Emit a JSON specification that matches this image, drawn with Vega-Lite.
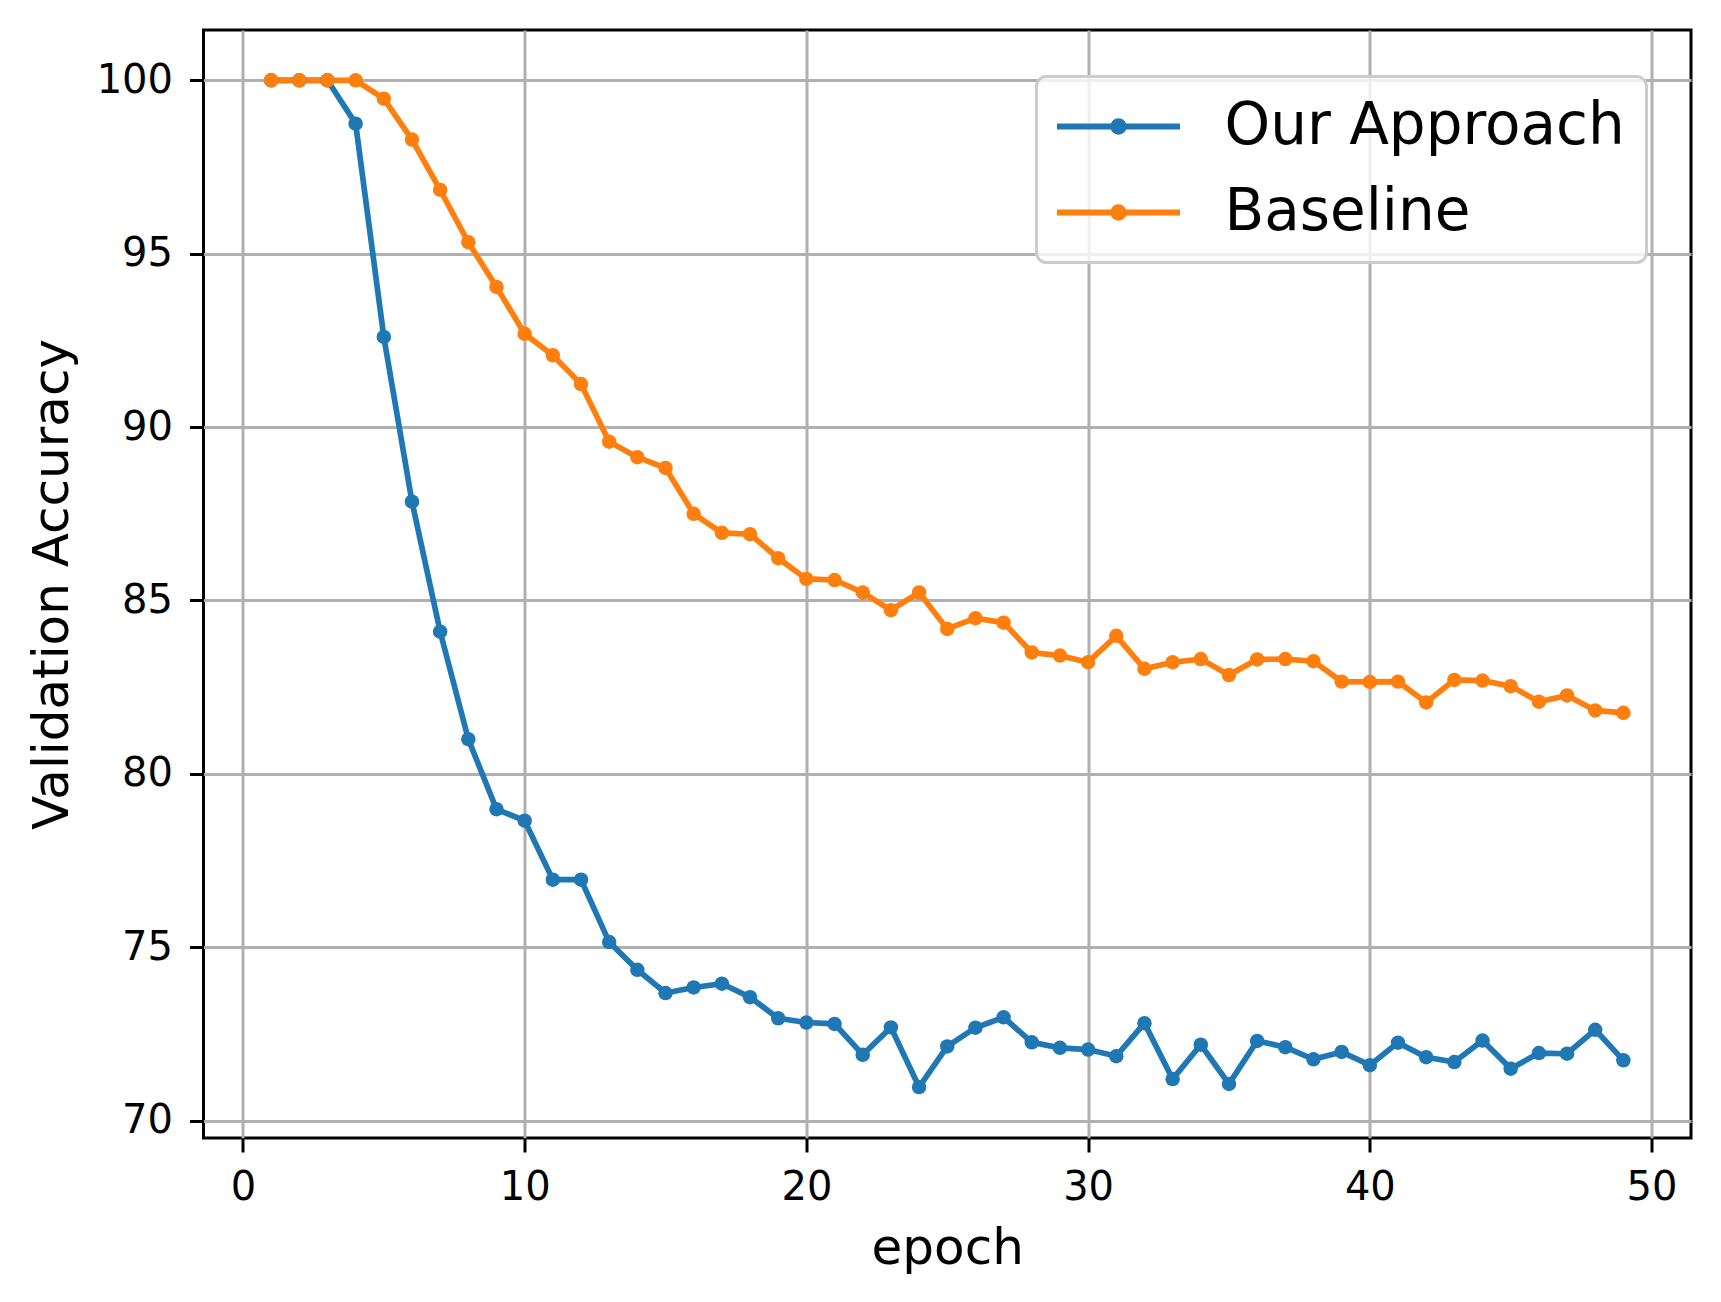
{
  "$schema": "https://vega.github.io/schema/vega-lite/v6.json",
  "autosize": {"type": "none"},
  "padding": {"left": 203.5, "top": 30, "right": 30, "bottom": 164},
  "width": 1487.5,
  "height": 1108,
  "background": "white",
  "data": {
    "values": [
      {"epoch": 1, "acc": 100, "series": "Our Approach"},
      {"epoch": 2, "acc": 100, "series": "Our Approach"},
      {"epoch": 3, "acc": 100, "series": "Our Approach"},
      {"epoch": 4, "acc": 98.75, "series": "Our Approach"},
      {"epoch": 5, "acc": 92.6, "series": "Our Approach"},
      {"epoch": 6, "acc": 87.85, "series": "Our Approach"},
      {"epoch": 7, "acc": 84.1, "series": "Our Approach"},
      {"epoch": 8, "acc": 81.0, "series": "Our Approach"},
      {"epoch": 9, "acc": 78.98, "series": "Our Approach"},
      {"epoch": 10, "acc": 78.65, "series": "Our Approach"},
      {"epoch": 11, "acc": 76.95, "series": "Our Approach"},
      {"epoch": 12, "acc": 76.95, "series": "Our Approach"},
      {"epoch": 13, "acc": 75.15, "series": "Our Approach"},
      {"epoch": 14, "acc": 74.35, "series": "Our Approach"},
      {"epoch": 15, "acc": 73.68, "series": "Our Approach"},
      {"epoch": 16, "acc": 73.84, "series": "Our Approach"},
      {"epoch": 17, "acc": 73.95, "series": "Our Approach"},
      {"epoch": 18, "acc": 73.56, "series": "Our Approach"},
      {"epoch": 19, "acc": 72.95, "series": "Our Approach"},
      {"epoch": 20, "acc": 72.83, "series": "Our Approach"},
      {"epoch": 21, "acc": 72.79, "series": "Our Approach"},
      {"epoch": 22, "acc": 71.9, "series": "Our Approach"},
      {"epoch": 23, "acc": 72.69, "series": "Our Approach"},
      {"epoch": 24, "acc": 70.97, "series": "Our Approach"},
      {"epoch": 25, "acc": 72.14, "series": "Our Approach"},
      {"epoch": 26, "acc": 72.68, "series": "Our Approach"},
      {"epoch": 27, "acc": 72.98, "series": "Our Approach"},
      {"epoch": 28, "acc": 72.26, "series": "Our Approach"},
      {"epoch": 29, "acc": 72.1, "series": "Our Approach"},
      {"epoch": 30, "acc": 72.05, "series": "Our Approach"},
      {"epoch": 31, "acc": 71.86, "series": "Our Approach"},
      {"epoch": 32, "acc": 72.81, "series": "Our Approach"},
      {"epoch": 33, "acc": 71.2, "series": "Our Approach"},
      {"epoch": 34, "acc": 72.19, "series": "Our Approach"},
      {"epoch": 35, "acc": 71.06, "series": "Our Approach"},
      {"epoch": 36, "acc": 72.3, "series": "Our Approach"},
      {"epoch": 37, "acc": 72.12, "series": "Our Approach"},
      {"epoch": 38, "acc": 71.77, "series": "Our Approach"},
      {"epoch": 39, "acc": 71.98, "series": "Our Approach"},
      {"epoch": 40, "acc": 71.6, "series": "Our Approach"},
      {"epoch": 41, "acc": 72.25, "series": "Our Approach"},
      {"epoch": 42, "acc": 71.83, "series": "Our Approach"},
      {"epoch": 43, "acc": 71.69, "series": "Our Approach"},
      {"epoch": 44, "acc": 72.31, "series": "Our Approach"},
      {"epoch": 45, "acc": 71.5, "series": "Our Approach"},
      {"epoch": 46, "acc": 71.95, "series": "Our Approach"},
      {"epoch": 47, "acc": 71.93, "series": "Our Approach"},
      {"epoch": 48, "acc": 72.62, "series": "Our Approach"},
      {"epoch": 49, "acc": 71.74, "series": "Our Approach"},
      {"epoch": 1, "acc": 100, "series": "Baseline"},
      {"epoch": 2, "acc": 100, "series": "Baseline"},
      {"epoch": 3, "acc": 100, "series": "Baseline"},
      {"epoch": 4, "acc": 100, "series": "Baseline"},
      {"epoch": 5, "acc": 99.47, "series": "Baseline"},
      {"epoch": 6, "acc": 98.29, "series": "Baseline"},
      {"epoch": 7, "acc": 96.84, "series": "Baseline"},
      {"epoch": 8, "acc": 95.33, "series": "Baseline"},
      {"epoch": 9, "acc": 94.04, "series": "Baseline"},
      {"epoch": 10, "acc": 92.69, "series": "Baseline"},
      {"epoch": 11, "acc": 92.07, "series": "Baseline"},
      {"epoch": 12, "acc": 91.24, "series": "Baseline"},
      {"epoch": 13, "acc": 89.58, "series": "Baseline"},
      {"epoch": 14, "acc": 89.13, "series": "Baseline"},
      {"epoch": 15, "acc": 88.82, "series": "Baseline"},
      {"epoch": 16, "acc": 87.5, "series": "Baseline"},
      {"epoch": 17, "acc": 86.95, "series": "Baseline"},
      {"epoch": 18, "acc": 86.91, "series": "Baseline"},
      {"epoch": 19, "acc": 86.22, "series": "Baseline"},
      {"epoch": 20, "acc": 85.62, "series": "Baseline"},
      {"epoch": 21, "acc": 85.59, "series": "Baseline"},
      {"epoch": 22, "acc": 85.23, "series": "Baseline"},
      {"epoch": 23, "acc": 84.72, "series": "Baseline"},
      {"epoch": 24, "acc": 85.23, "series": "Baseline"},
      {"epoch": 25, "acc": 84.18, "series": "Baseline"},
      {"epoch": 26, "acc": 84.49, "series": "Baseline"},
      {"epoch": 27, "acc": 84.36, "series": "Baseline"},
      {"epoch": 28, "acc": 83.5, "series": "Baseline"},
      {"epoch": 29, "acc": 83.41, "series": "Baseline"},
      {"epoch": 30, "acc": 83.22, "series": "Baseline"},
      {"epoch": 31, "acc": 83.98, "series": "Baseline"},
      {"epoch": 32, "acc": 83.03, "series": "Baseline"},
      {"epoch": 33, "acc": 83.22, "series": "Baseline"},
      {"epoch": 34, "acc": 83.31, "series": "Baseline"},
      {"epoch": 35, "acc": 82.85, "series": "Baseline"},
      {"epoch": 36, "acc": 83.3, "series": "Baseline"},
      {"epoch": 37, "acc": 83.31, "series": "Baseline"},
      {"epoch": 38, "acc": 83.25, "series": "Baseline"},
      {"epoch": 39, "acc": 82.66, "series": "Baseline"},
      {"epoch": 40, "acc": 82.65, "series": "Baseline"},
      {"epoch": 41, "acc": 82.66, "series": "Baseline"},
      {"epoch": 42, "acc": 82.06, "series": "Baseline"},
      {"epoch": 43, "acc": 82.71, "series": "Baseline"},
      {"epoch": 44, "acc": 82.69, "series": "Baseline"},
      {"epoch": 45, "acc": 82.53, "series": "Baseline"},
      {"epoch": 46, "acc": 82.08, "series": "Baseline"},
      {"epoch": 47, "acc": 82.26, "series": "Baseline"},
      {"epoch": 48, "acc": 81.83, "series": "Baseline"},
      {"epoch": 49, "acc": 81.76, "series": "Baseline"}
    ]
  },
  "mark": {
    "type": "line",
    "strokeWidth": 5.7,
    "point": {"filled": true, "size": 210, "strokeWidth": 0}
  },
  "encoding": {
    "x": {
      "field": "epoch",
      "type": "quantitative",
      "scale": {"domain": [-1.4, 51.4], "nice": false, "zero": false},
      "axis": {
        "title": "epoch",
        "values": [0, 10, 20, 30, 40, 50],
        "labelPadding": 15,
        "titleBaseline": "alphabetic",
        "titleX": 743.75,
        "titleY": 125
      }
    },
    "y": {
      "field": "acc",
      "type": "quantitative",
      "scale": {"domain": [69.5, 101.45], "nice": false, "zero": false},
      "axis": {
        "title": "Validation Accuracy",
        "values": [70, 75, 80, 85, 90, 95, 100],
        "labelPadding": 17,
        "titleBaseline": "alphabetic",
        "titleX": -136.5,
        "titleY": 554
      }
    },
    "color": {
      "field": "series",
      "type": "nominal",
      "scale": {"domain": ["Our Approach", "Baseline"], "range": ["#1f77b4", "#ff7f0e"]},
      "legend": {
        "title": null,
        "orient": "none",
        "legendX": 833,
        "legendY": 46.5,
        "padding": 21,
        "rowPadding": 28,
        "symbolType": "M-3.075,0L3.075,0M0.2625,0A0.2625,0.2625,0,1,1,-0.2625,0A0.2625,0.2625,0,1,1,0.2625,0Z",
        "symbolSize": 1600,
        "symbolStrokeWidth": 6,
        "symbolOffset": 32,
        "labelOffset": 77,
        "labelFontSize": 58,
        "labelFont": "DejaVu Sans",
        "labelColor": "black",
        "labelLimit": 1000,
        "fillColor": "rgba(255,255,255,0.8)",
        "strokeColor": "#cccccc",
        "cornerRadius": 10,
        "encode": {
          "legend": {
            "update": {
              "strokeWidth": {"value": 3}
            }
          },
          "symbols": {
            "update": {
              "fill": {"scale": "color", "field": "value"},
              "stroke": {"scale": "color", "field": "value"},
              "strokeWidth": {"value": 6},
              "opacity": {"value": 1}
            }
          }
        }
      }
    }
  },
  "config": {
    "view": {"stroke": "black", "strokeWidth": 3},
    "axis": {
      "domain": false,
      "grid": true,
      "gridColor": "#b0b0b0",
      "gridWidth": 3,
      "gridOpacity": 1,
      "ticks": true,
      "tickColor": "black",
      "tickWidth": 3,
      "tickSize": 14,
      "labelFont": "DejaVu Sans",
      "labelFontSize": 40,
      "labelColor": "black",
      "titleFont": "DejaVu Sans",
      "titleFontSize": 50,
      "titleFontWeight": "normal",
      "titleColor": "black"
    }
  }
}
